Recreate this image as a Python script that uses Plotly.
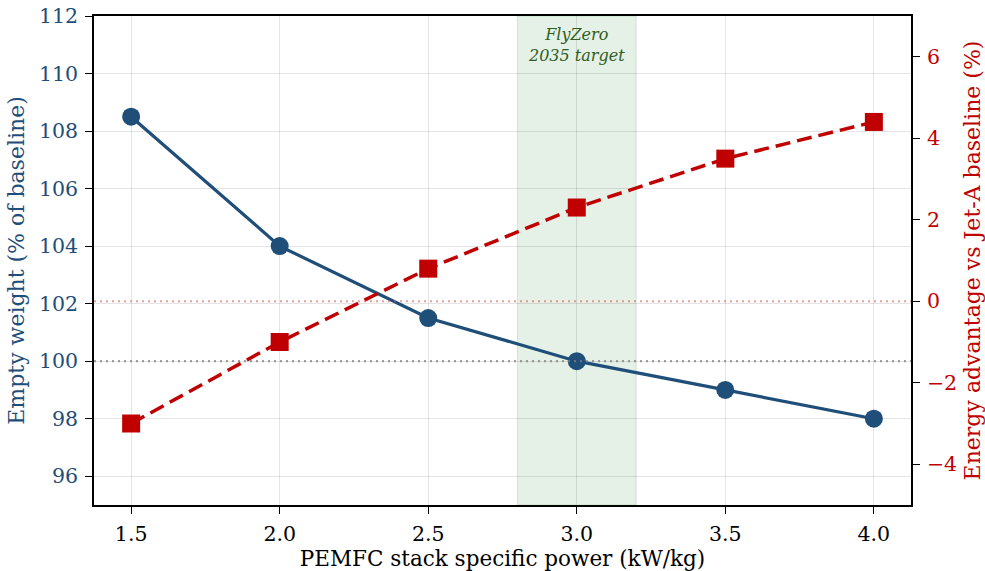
import plotly.graph_objects as go

# PEMFC stack specific power sweep
specific_power = [1.5, 2.0, 2.5, 3.0, 3.5, 4.0]
empty_weight_pct = [108.5, 104.0, 101.5, 100.0, 99.0, 98.0]
energy_advantage_pct = [-3.0, -1.0, 0.8, 2.3, 3.5, 4.4]

x_ticks = [1.5, 2.0, 2.5, 3.0, 3.5, 4.0]
left_ticks = [96, 98, 100, 102, 104, 106, 108, 110, 112]
right_ticks = [-4, -2, 0, 2, 4, 6]

target_band = (2.8, 3.2)

BLUE = "#1f4e79"
RED = "#c00000"
FONT = "DejaVu Serif"

fig = go.Figure()

# FlyZero target band
fig.add_vrect(x0=target_band[0], x1=target_band[1], fillcolor="rgba(56,142,60,0.13)",
              line=dict(color="rgba(56,142,60,0.18)", width=1), layer="below")

# Reference lines: 100 % empty weight and zero energy advantage
fig.add_hline(y=100, line=dict(color="rgba(128,128,128,0.75)", width=2.2, dash="2px,4px"))
fig.add_hline(y=0, yref="y2", line=dict(color="rgba(230,90,90,0.6)", width=2.2, dash="2px,4px"))

fig.add_trace(go.Scatter(
    x=specific_power, y=empty_weight_pct, mode="lines+markers",
    line=dict(color=BLUE, width=3.2),
    marker=dict(symbol="circle", size=18, color=BLUE),
    name="Empty weight", yaxis="y", showlegend=False,
))
fig.add_trace(go.Scatter(
    x=specific_power, y=energy_advantage_pct, mode="lines+markers",
    line=dict(color=RED, width=3.5, dash="15px,7px"),
    marker=dict(symbol="square", size=18, color=RED),
    name="Energy advantage", yaxis="y2", showlegend=False,
))

fig.add_annotation(
    x=sum(target_band) / 2, y=1, xref="x", yref="paper", yanchor="top", yshift=-7,
    text="<i>FlyZero<br>2035 target</i>", showarrow=False,
    font=dict(family=FONT, size=16, color="#2e5e22"),
)

fig.update_layout(
    width=985, height=571,
    margin=dict(l=94, r=74, t=16, b=66),
    plot_bgcolor="white", paper_bgcolor="white",
    font=dict(family=FONT, size=20, color="black"),
    xaxis=dict(
        range=[1.375, 4.125], tickvals=x_ticks, ticktext=[f"{v:.1f}" for v in x_ticks],
        showgrid=True, gridcolor="rgba(0,0,0,0.1)", gridwidth=1,
        showline=True, linecolor="black", linewidth=1.6, mirror=True,
        ticks="outside", ticklen=7, tickcolor="black", zeroline=False,
        automargin=False, ticklabelstandoff=3,
        title=dict(text="PEMFC stack specific power (kW/kg)", font=dict(size=21.5), standoff=12),
        tickfont=dict(size=20.5),
    ),
    yaxis=dict(
        range=[95, 112], tickvals=left_ticks,
        showgrid=True, gridcolor="rgba(0,0,0,0.1)", gridwidth=1,
        showline=True, linecolor="black", linewidth=1.6,
        ticks="outside", ticklen=7, tickcolor="black", zeroline=False,
        automargin=False, ticklabelstandoff=3,
        title=dict(text="Empty weight (% of baseline)", font=dict(size=22, color=BLUE), standoff=8),
        tickfont=dict(size=20.5, color=BLUE),
    ),
    yaxis2=dict(
        range=[-5, 7], tickvals=right_ticks, ticktext=[str(v).replace("-", "\u2212") for v in right_ticks],
        overlaying="y", side="right", showgrid=False,
        showline=True, linecolor="black", linewidth=1.6,
        ticks="outside", ticklen=7, tickcolor="black", zeroline=False,
        automargin=False, ticklabelstandoff=3,
        title=dict(text="Energy advantage vs Jet-A baseline (%)", font=dict(size=22, color=RED), standoff=12),
        tickfont=dict(size=20.5, color=RED),
    ),
)

fig.write_html("out.html")
